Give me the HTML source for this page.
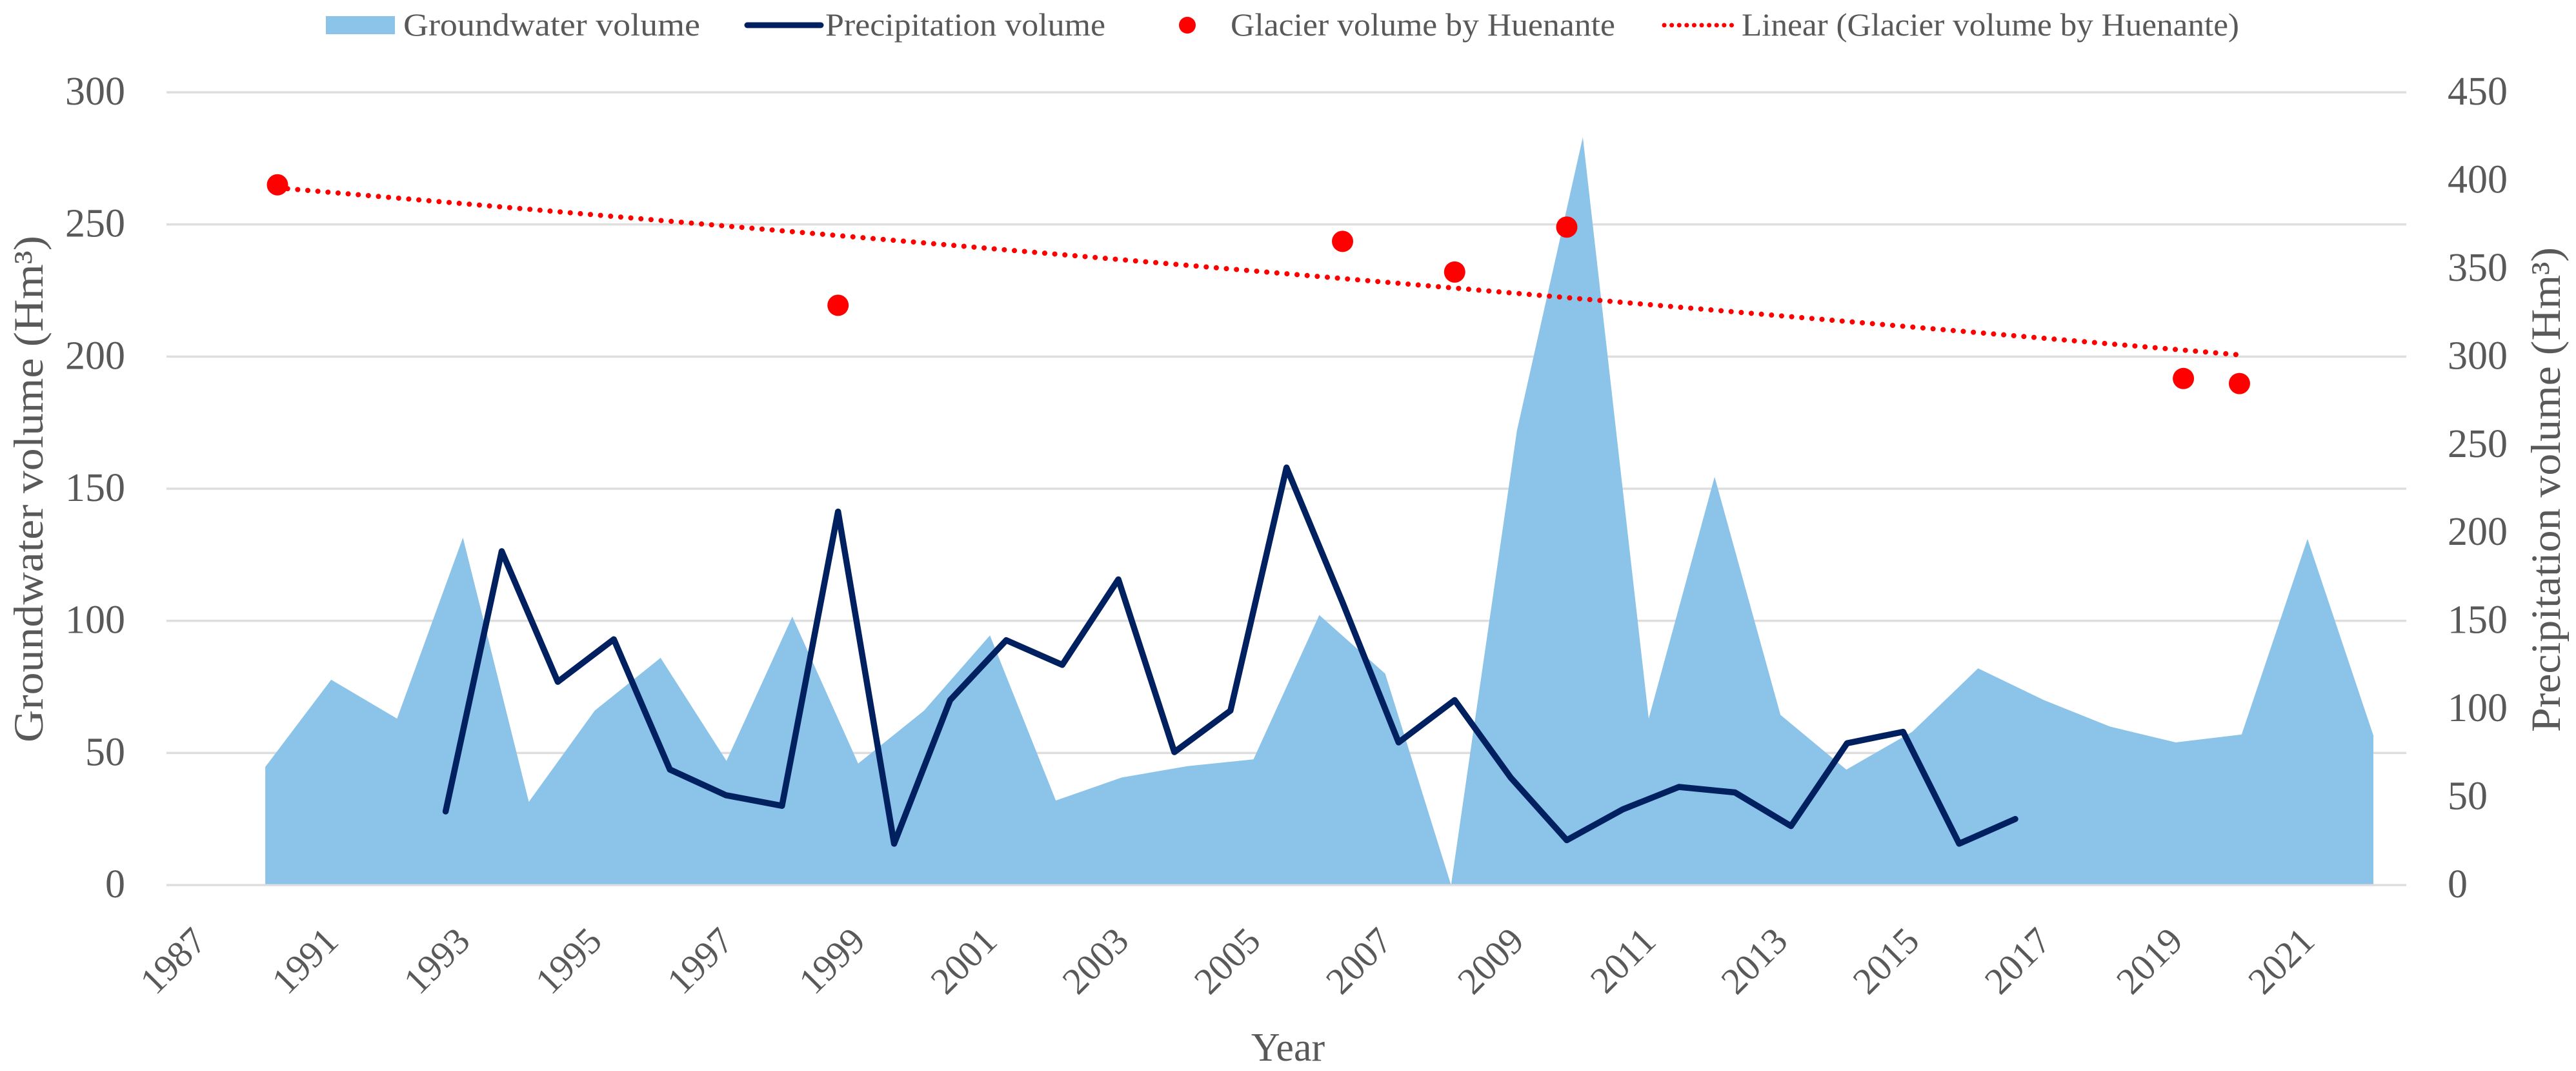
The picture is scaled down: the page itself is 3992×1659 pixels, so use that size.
<!DOCTYPE html>
<html lang="en">
<head>
<meta charset="utf-8">
<title>Groundwater, precipitation and glacier volume</title>
<style>
html,body{margin:0;padding:0;background:#fff;}
svg{display:block;}
text{font-family:"Liberation Serif",serif;fill:#595959;}
</style>
</head>
<body>
<svg id="chart" xmlns="http://www.w3.org/2000/svg" width="3992" height="1659" viewBox="0 0 3992 1659">
  <rect x="0" y="0" width="3992" height="1659" fill="#ffffff"/>
  <g id="grid"></g>
  <g id="areaLayer"></g>
  <g id="lineLayer"></g>
  <g id="trendLayer"></g>
  <g id="dotLayer"></g>
  <g id="leftTicks"></g>
  <g id="rightTicks"></g>
  <g id="xTicks"></g>

  <text transform="translate(66,1150) rotate(-90)" font-size="65" textLength="785" lengthAdjust="spacingAndGlyphs">Groundwater volume (Hm³)</text>
  <text transform="translate(3967,1134) rotate(-90)" font-size="65" textLength="751" lengthAdjust="spacingAndGlyphs">Precipitation volume (Hm³)</text>
  <text x="1996" y="1643" font-size="62" text-anchor="middle">Year</text>

  <g>
    <g>
      <rect x="505" y="25" width="107" height="28" fill="#8CC3E9"/>
      <text x="625" y="55" font-size="50" textLength="460" lengthAdjust="spacingAndGlyphs">Groundwater volume</text>
    </g>
    <g>
      <line x1="1158" y1="39" x2="1272" y2="39" stroke="#002060" stroke-width="9" stroke-linecap="round"/>
      <text x="1279" y="55" font-size="50" textLength="434" lengthAdjust="spacingAndGlyphs">Precipitation volume</text>
    </g>
    <g>
      <circle cx="1840" cy="39" r="13" fill="#FF0000"/>
      <text x="1907" y="55" font-size="50" textLength="596" lengthAdjust="spacingAndGlyphs">Glacier volume by Huenante</text>
    </g>
    <g>
      <line x1="2579" y1="39" x2="2687" y2="39" stroke="#FF0000" stroke-width="7" stroke-linecap="round" stroke-dasharray="0.1 11.5"/>
      <text x="2699" y="55" font-size="50" textLength="771" lengthAdjust="spacingAndGlyphs">Linear (Glacier volume by Huenante)</text>
    </g>
  </g>
</svg>
<script>
var categories = ['1987','1990','1991','1992','1993','1994','1995','1996','1997','1998','1999','2000','2001','2002','2003','2004','2005','2006','2007','2008','2009','2010','2011','2012','2013','2014','2015','2016','2017','2018','2019','2020','2021','2022'];
var xTickLabels = ['1987','1991','1993','1995','1997','1999','2001','2003','2005','2007','2009','2011','2013','2015','2017','2019','2021'];
var groundwaterValues = [null,44.7,77.7,63,131.5,31.5,66,86,47,101.6,46,66,94.5,32,40.7,45,47.6,102.2,80,0,172,283,63,154.5,64.4,43.7,58,82,70,60,54,57,131,56.6];
var precipitationYears = [1989,1990,1991,1992,1993,1994,1995,1996,1997,1998,1999,2000,2001,2002,2003,2004,2005,2006,2007,2008,2009,2010,2011,2012,2013,2014,2015,2016,2017];
var precipitationValues = [41.8,189.5,115.4,139.5,65.6,51,45,212,23.5,105,139,125,173.5,75.5,99,237,160.5,81,105,61,25.5,43,55.7,52.6,33.5,80.5,87,23.5,37.5];
var glacierYears = [1986,1996,2005,2007,2009,2020,2021];
var glacierValues = [265,219.4,243.6,232,249,191.7,189.8];
var leftTickValues = [0,50,100,150,200,250,300];
var rightTickValues = [0,50,100,150,200,250,300,350,400,450];

var NS = 'http://www.w3.org/2000/svg';
var plotLeft = 258, plotRight = 3729, plotTop = 143, plotBottom = 1371;
var band = (plotRight - plotLeft) / categories.length;

function xCat(i) { return plotLeft + (i + 0.5) * band; }
function xYear(yr) { return 430 + (yr - 1986) * 86.87; }
function yLeft(v) { return plotBottom - v / 300 * (plotBottom - plotTop); }
function yRight(v) { return plotBottom - v / 450 * (plotBottom - plotTop); }
function make(tag, attrs, parent) {
  var el = document.createElementNS(NS, tag);
  for (var k in attrs) { el.setAttribute(k, attrs[k]); }
  parent.appendChild(el);
  return el;
}

var gridG = document.getElementById('grid');
leftTickValues.forEach(function (v) {
  var ln = make('line', {x1: plotLeft, x2: plotRight, y1: yLeft(v), y2: yLeft(v), stroke: '#DEDEDE', 'stroke-width': 3.5}, gridG);
  
  
});

var areaPts = [];
var firstArea = null, lastArea = null;
groundwaterValues.forEach(function (v, i) {
  if (v === null) { return; }
  if (firstArea === null) { firstArea = i; }
  lastArea = i;
  areaPts.push(xCat(i).toFixed(1) + ',' + yLeft(v).toFixed(1));
});
var areaBase = plotBottom - 1.5;
areaPts.unshift(xCat(firstArea).toFixed(1) + ',' + areaBase);
areaPts.push(xCat(lastArea).toFixed(1) + ',' + areaBase);
var areaPoly = make('polygon', {points: areaPts.join(' '), fill: '#8CC3E9'}, document.getElementById('areaLayer'));



var linePts = precipitationValues.map(function (v, i) {
  return xYear(precipitationYears[i]).toFixed(1) + ',' + yRight(v).toFixed(1);
});
var precipLine = make('polyline', {points: linePts.join(' '), fill: 'none', stroke: '#002060', 'stroke-width': 9.5, 'stroke-linejoin': 'round', 'stroke-linecap': 'round'}, document.getElementById('lineLayer'));



var n = glacierYears.length, sx = 0, sy = 0, sxy = 0, sxx = 0;
glacierYears.forEach(function (yr, i) {
  sx += yr; sy += glacierValues[i]; sxy += yr * glacierValues[i]; sxx += yr * yr;
});
var slope = (n * sxy - sx * sy) / (n * sxx - sx * sx);
var intercept = (sy - slope * sx) / n;
var tStart = glacierYears[0], tEnd = glacierYears[n - 1];
var trend = make('line', {x1: xYear(tStart), y1: yLeft(intercept + slope * tStart), x2: xYear(tEnd), y2: yLeft(intercept + slope * tEnd), stroke: '#FF0000', 'stroke-width': 8, 'stroke-linecap': 'round', 'stroke-dasharray': '0.1 15.6'}, document.getElementById('trendLayer'));



var dotG = document.getElementById('dotLayer');
glacierValues.forEach(function (v, i) {
  var c = make('circle', {cx: xYear(glacierYears[i]), cy: yLeft(v), r: 16.5, fill: '#FF0000'}, dotG);
  
  
});

var leftG = document.getElementById('leftTicks');
leftTickValues.forEach(function (v) {
  var t = make('text', {x: 194, y: yLeft(v) + 19, 'font-size': 62, 'text-anchor': 'end'}, leftG);
  t.textContent = String(v);
  
  
});

var rightG = document.getElementById('rightTicks');
rightTickValues.forEach(function (v) {
  var t = make('text', {x: 3793, y: yRight(v) + 19, 'font-size': 62}, rightG);
  t.textContent = String(v);
  
  
});

var xG = document.getElementById('xTicks');
xTickLabels.forEach(function (lab) {
  var i = categories.indexOf(lab);
  var px = xCat(i) + 14;
  var t = make('text', {x: 0, y: 0, 'font-size': 58, 'text-anchor': 'end', transform: 'translate(' + px.toFixed(1) + ',1461) rotate(-45)'}, xG);
  t.textContent = lab;
  
  
});
</script>
</body>
</html>
